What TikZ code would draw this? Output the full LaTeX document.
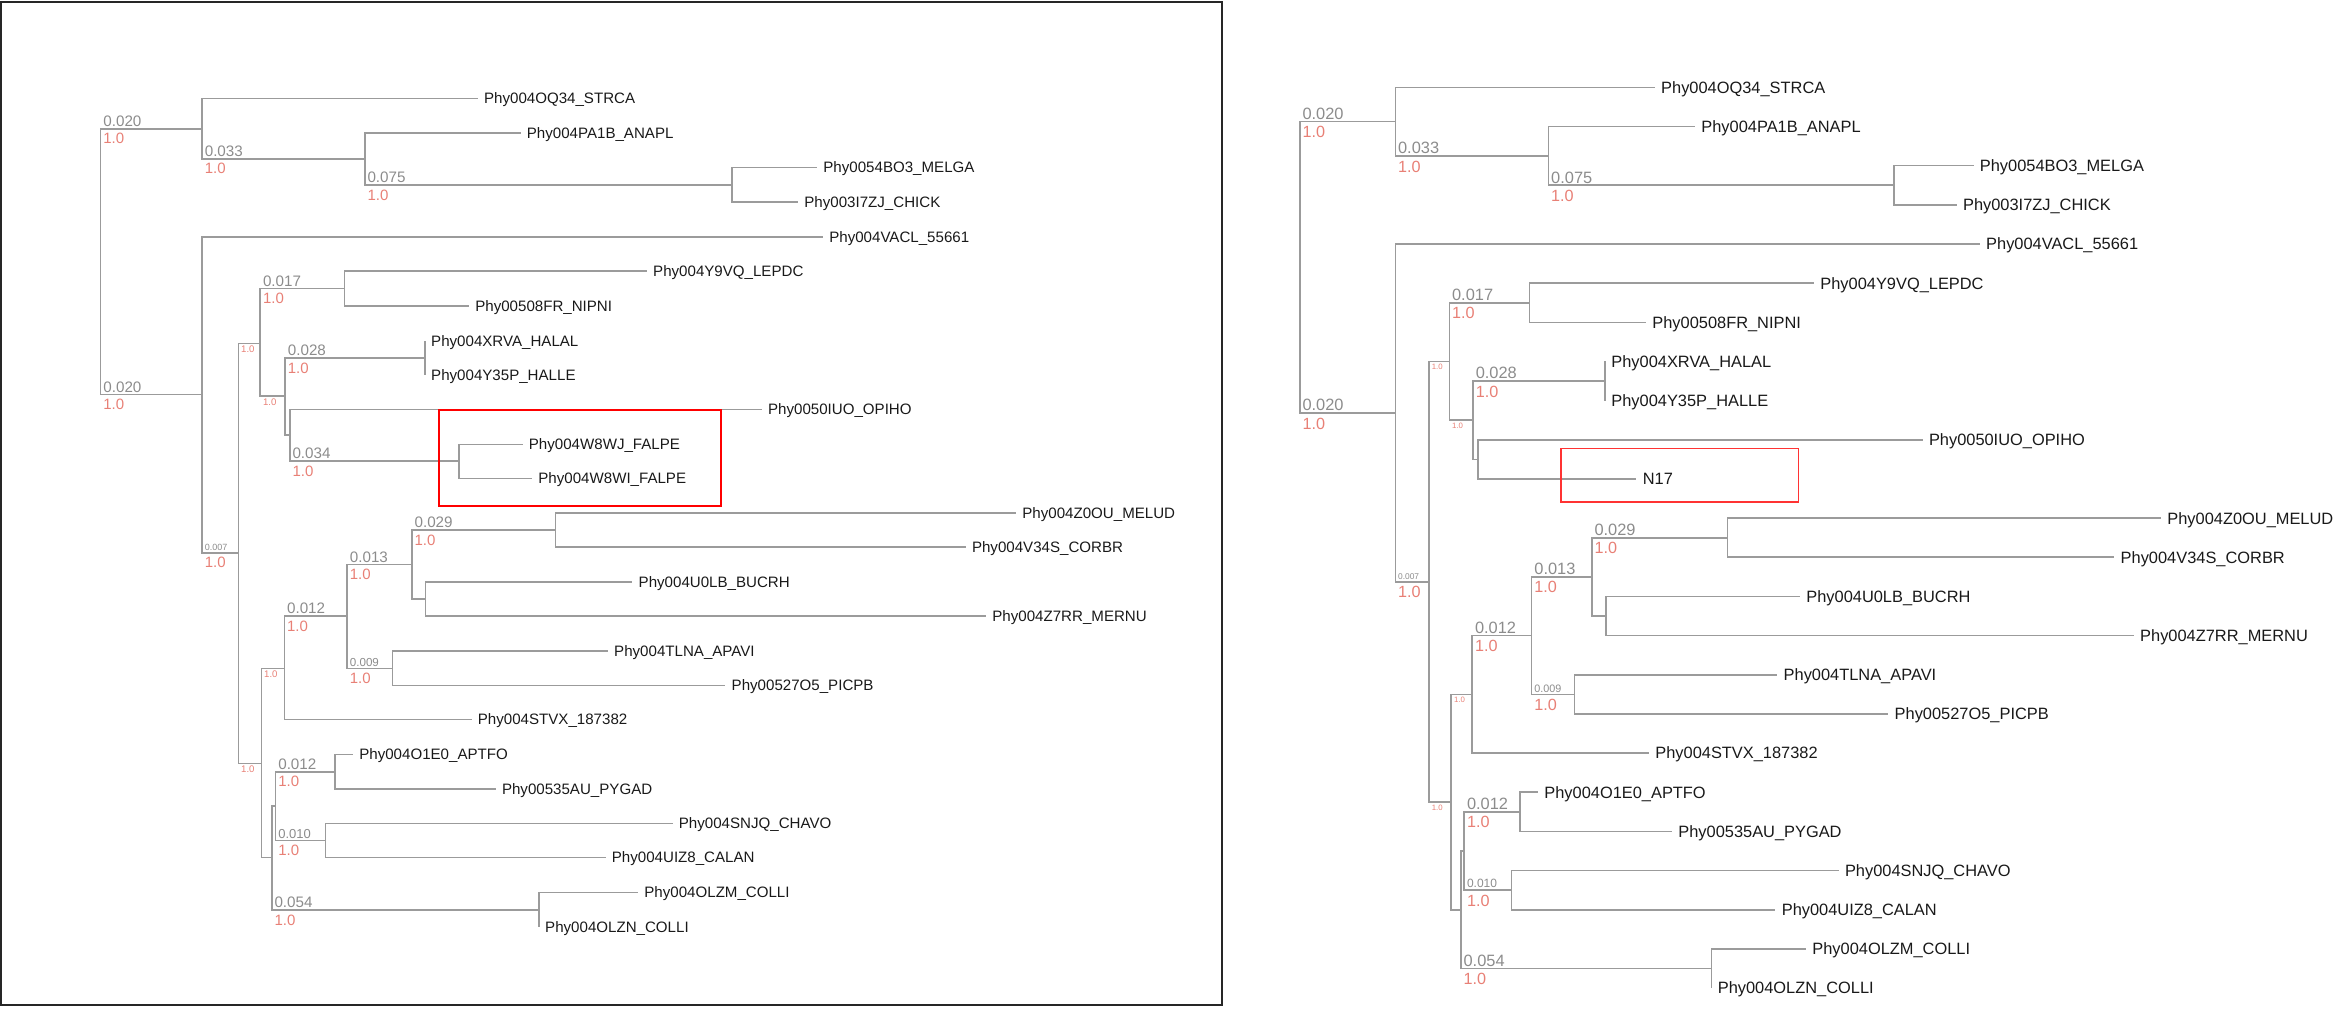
\documentclass[tikz,border=0pt]{standalone}
\usepackage{fontspec}
\setmainfont{Liberation Sans}
\usepackage{tikz}

\definecolor{treegrey}{RGB}{155,155,155}
\definecolor{lengrey}{RGB}{140,140,140}
\definecolor{suppred}{RGB}{232,128,118}
\definecolor{leafink}{RGB}{25,25,25}
\newcommand{\fsz}[1]{\fontsize{#1}{#1}\selectfont}

\tikzset{
edge/.style={draw=treegrey, line width=0.8pt},
leaf/.style={anchor=west, inner sep=3pt, text depth=0pt, text=leafink},
blen/.style={anchor=south west, inner xsep=1pt, inner ysep=0.6pt, text=lengrey},
supp/.style={anchor=north west, inner xsep=1pt, inner ysep=2pt, text=suppred},
tinysupp/.style={supp, inner ysep=1pt},
pickbox/.style={draw=red, line width=1pt},
}

\begin{document}
\begin{tikzpicture}[x=0.5pt, y=-0.5pt]
\useasboundingbox (0,0) rectangle (2336,1017);
\draw[line width=1pt, black!85] (1,1.5) rectangle (1221.5,1004.5);

% left tree
\begin{scope}[leaf/.append style={font=\fsz{7.55}},
  blen/.append style={font=\fsz{7.6}},
  supp/.append style={font=\fsz{7.5}},
  tinysupp/.append style={font=\fsz{4.8}}]
\coordinate (L0) at (100.6,261.5);
\coordinate (La) at (202,128.7);
\coordinate (Lb) at (364.7,158.7);
\coordinate (Lc) at (732.2,185);
\coordinate (Ld) at (202,394.3);
\coordinate (Le) at (238.4,552.7);
\coordinate (Lf) at (260.2,343.3);
\coordinate (Lg) at (344.4,288.3);
\coordinate (Lh) at (285.1,396);
\coordinate (Lj) at (424.8,357.8);
\coordinate (Li) at (289.7,435);
\coordinate (Lk) at (459.2,461);
\coordinate (Ll) at (261.4,763.3);
\coordinate (Lm) at (284.3,668.3);
\coordinate (Ln) at (347.1,616);
\coordinate (Lo) at (411.8,564.3);
\coordinate (Lp) at (555.3,529.8);
\coordinate (Lq) at (425.6,598.8);
\coordinate (Lr) at (392.3,668.3);
\coordinate (Ls) at (271.7,857.3);
\coordinate (Lt) at (275.5,806);
\coordinate (Lu) at (334.9,771.7);
\coordinate (Lv) at (325.3,840.5);
\coordinate (Lw) at (538.8,910);

\node[leaf] (Lstrca) at (477.7,98.3) {Phy004OQ34\_STRCA};
\node[leaf] (Lpa1b) at (520.5,133) {Phy004PA1B\_ANAPL};
\node[leaf] (Lmelga) at (817,167.3) {Phy0054BO3\_MELGA};
\node[leaf] (Lchick) at (798,202) {Phy003I7ZJ\_CHICK};
\node[leaf] (Lvacl) at (822.9,236.7) {Phy004VACL\_55661};
\node[leaf] (Llepdc) at (646.8,270.7) {Phy004Y9VQ\_LEPDC};
\node[leaf] (Lnipni) at (468.9,305.7) {Phy00508FR\_NIPNI};
\node[leaf] (Lhalal) at (424.8,341) {Phy004XRVA\_HALAL};
\node[leaf] (Lhalle) at (424.8,375) {Phy004Y35P\_HALLE};
\node[leaf] (Lopiho) at (761.7,409.3) {Phy0050IUO\_OPIHO};
\node[leaf] (Lw8wj) at (522.5,444.3) {Phy004W8WJ\_FALPE};
\node[leaf] (Lw8wi) at (532,478.3) {Phy004W8WI\_FALPE};
\node[leaf] (Lmelud) at (1016,512.7) {Phy004Z0OU\_MELUD};
\node[leaf] (Lcorbr) at (965.6,547) {Phy004V34S\_CORBR};
\node[leaf] (Lbucrh) at (632.3,582) {Phy004U0LB\_BUCRH};
\node[leaf] (Lmernu) at (986,616) {Phy004Z7RR\_MERNU};
\node[leaf] (Lapavi) at (607.8,651) {Phy004TLNA\_APAVI};
\node[leaf] (Lpicpb) at (725.3,685.3) {Phy00527O5\_PICPB};
\node[leaf] (Lstvx) at (471.5,719.3) {Phy004STVX\_187382};
\node[leaf] (Laptfo) at (352.9,754.3) {Phy004O1E0\_APTFO};
\node[leaf] (Lpygad) at (495.6,789) {Phy00535AU\_PYGAD};
\node[leaf] (Lchavo) at (672.5,823.3) {Phy004SNJQ\_CHAVO};
\node[leaf] (Lcalan) at (605.5,857.3) {Phy004UIZ8\_CALAN};
\node[leaf] (Lolzm) at (638,892.3) {Phy004OLZM\_COLLI};
\node[leaf] (Lolzn) at (538.8,926.7) {Phy004OLZN\_COLLI};

\draw[edge] (L0) |- (La) node[pos=.5,blen]{0.020} node[pos=.5,supp]{1.0};
\draw[edge] (L0) |- (Ld) node[pos=.5,blen]{0.020} node[pos=.5,supp]{1.0};
\draw[edge] (La) |- (Lstrca.west);
\draw[edge] (La) |- (Lb) node[pos=.5,blen]{0.033} node[pos=.5,supp]{1.0};
\draw[edge] (Lb) |- (Lpa1b.west);
\draw[edge] (Lb) |- (Lc) node[pos=.5,blen]{0.075} node[pos=.5,supp]{1.0};
\draw[edge] (Lc) |- (Lmelga.west);
\draw[edge] (Lc) |- (Lchick.west);
\draw[edge] (Ld) |- (Lvacl.west);
\draw[edge] (Ld) |- (Le) node[pos=.5,blen,font=\fsz{4.5}]{0.007} node[pos=.5,supp]{1.0};
\draw[edge] (Le) |- (Lf) node[pos=.5,tinysupp]{1.0};
\draw[edge] (Le) |- (Ll) node[pos=.5,tinysupp]{1.0};
\draw[edge] (Lf) |- (Lg) node[pos=.5,blen]{0.017} node[pos=.5,supp]{1.0};
\draw[edge] (Lf) |- (Lh) node[pos=.5,tinysupp]{1.0};
\draw[edge] (Lg) |- (Llepdc.west);
\draw[edge] (Lg) |- (Lnipni.west);
\draw[edge] (Lh) |- (Lj) node[pos=.5,blen]{0.028} node[pos=.5,supp]{1.0};
\draw[edge] (Lh) |- (Li);
\draw[edge] (Lj) |- (Lhalal.west);
\draw[edge] (Lj) |- (Lhalle.west);
\draw[edge] (Li) |- (Lopiho.west);
\draw[edge] (Li) |- (Lk) node[pos=.5,blen]{0.034} node[pos=.5,supp]{1.0};
\draw[edge] (Lk) |- (Lw8wj.west);
\draw[edge] (Lk) |- (Lw8wi.west);
\draw[edge] (Ll) |- (Lm) node[pos=.5,tinysupp]{1.0};
\draw[edge] (Ll) |- (Ls);
\draw[edge] (Lm) |- (Ln) node[pos=.5,blen]{0.012} node[pos=.5,supp]{1.0};
\draw[edge] (Lm) |- (Lstvx.west);
\draw[edge] (Ln) |- (Lo) node[pos=.5,blen]{0.013} node[pos=.5,supp]{1.0};
\draw[edge] (Ln) |- (Lr) node[pos=.5,blen,font=\fsz{5.8}]{0.009} node[pos=.5,supp]{1.0};
\draw[edge] (Lo) |- (Lp) node[pos=.5,blen]{0.029} node[pos=.5,supp]{1.0};
\draw[edge] (Lo) |- (Lq);
\draw[edge] (Lp) |- (Lmelud.west);
\draw[edge] (Lp) |- (Lcorbr.west);
\draw[edge] (Lq) |- (Lbucrh.west);
\draw[edge] (Lq) |- (Lmernu.west);
\draw[edge] (Lr) |- (Lapavi.west);
\draw[edge] (Lr) |- (Lpicpb.west);
\draw[edge] (Ls) |- (Lt);
\draw[edge] (Ls) |- (Lw) node[pos=.5,blen]{0.054} node[pos=.5,supp]{1.0};
\draw[edge] (Lt) |- (Lu) node[pos=.5,blen]{0.012} node[pos=.5,supp]{1.0};
\draw[edge] (Lt) |- (Lv) node[pos=.5,blen,font=\fsz{6.5}]{0.010} node[pos=.5,supp]{1.0};
\draw[edge] (Lu) |- (Laptfo.west);
\draw[edge] (Lu) |- (Lpygad.west);
\draw[edge] (Lv) |- (Lchavo.west);
\draw[edge] (Lv) |- (Lcalan.west);
\draw[edge] (Lw) |- (Lolzm.west);
\draw[edge] (Lw) |- (Lolzn.west);

\draw[pickbox] (439.3,410) rectangle (720.7,506);
\end{scope}

% right tree
\begin{scope}[leaf/.append style={font=\fsz{8.2}},
  blen/.append style={font=\fsz{8.2}},
  supp/.append style={font=\fsz{8.1}},
  tinysupp/.append style={font=\fsz{3.9}}]
\coordinate (R0) at (1299.7,267.3);
\coordinate (Ra) at (1395.3,121.6);
\coordinate (Rb) at (1548.4,155.9);
\coordinate (Rc) at (1893.9,185.2);
\coordinate (Rd) at (1395.3,412.9);
\coordinate (Re) at (1429,581.7);
\coordinate (Rf) at (1449.3,361.4);
\coordinate (Rg) at (1529.3,302.7);
\coordinate (Rh) at (1473,420.2);
\coordinate (Rj) at (1605,381);
\coordinate (Ri) at (1478,459.3);
\coordinate (Rl) at (1451.2,802);
\coordinate (Rm) at (1472.2,694.3);
\coordinate (Rn) at (1531.6,635.6);
\coordinate (Ro) at (1591.7,576.8);
\coordinate (Rp) at (1727.5,537.7);
\coordinate (Rq) at (1606.2,616);
\coordinate (Rr) at (1574.4,694.3);
\coordinate (Rs) at (1460.8,909.7);
\coordinate (Rt) at (1464.2,851);
\coordinate (Ru) at (1520,811.8);
\coordinate (Rv) at (1511.3,890.1);
\coordinate (Rw) at (1711.4,968.4);

\node[leaf] (Rstrca) at (1654.8,87.3) {Phy004OQ34\_STRCA};
\node[leaf] (Rpa1b) at (1695,126.5) {Phy004PA1B\_ANAPL};
\node[leaf] (Rmelga) at (1973.5,165.6) {Phy0054BO3\_MELGA};
\node[leaf] (Rchick) at (1956.7,204.8) {Phy003I7ZJ\_CHICK};
\node[leaf] (Rvacl) at (1979.8,244) {Phy004VACL\_55661};
\node[leaf] (Rlepdc) at (1814,283.1) {Phy004Y9VQ\_LEPDC};
\node[leaf] (Rnipni) at (1646,322.3) {Phy00508FR\_NIPNI};
\node[leaf] (Rhalal) at (1605,361.4) {Phy004XRVA\_HALAL};
\node[leaf] (Rhalle) at (1605,400.6) {Phy004Y35P\_HALLE};
\node[leaf] (Ropiho) at (1922.6,439.7) {Phy0050IUO\_OPIHO};
\node[leaf] (Rn17) at (1636.4,478.9) {N17};
\node[leaf] (Rmelud) at (2161,518.1) {Phy004Z0OU\_MELUD};
\node[leaf] (Rcorbr) at (2114.3,557.2) {Phy004V34S\_CORBR};
\node[leaf] (Rbucrh) at (1800,596.4) {Phy004U0LB\_BUCRH};
\node[leaf] (Rmernu) at (2133.8,635.5) {Phy004Z7RR\_MERNU};
\node[leaf] (Rapavi) at (1777.3,674.7) {Phy004TLNA\_APAVI};
\node[leaf] (Rpicpb) at (1888.3,713.9) {Phy00527O5\_PICPB};
\node[leaf] (Rstvx) at (1649,753) {Phy004STVX\_187382};
\node[leaf] (Raptfo) at (1538,792.2) {Phy004O1E0\_APTFO};
\node[leaf] (Rpygad) at (1672,831.3) {Phy00535AU\_PYGAD};
\node[leaf] (Rchavo) at (1838.6,870.5) {Phy004SNJQ\_CHAVO};
\node[leaf] (Rcalan) at (1775.4,909.7) {Phy004UIZ8\_CALAN};
\node[leaf] (Rolzm) at (1806,948.8) {Phy004OLZM\_COLLI};
\node[leaf] (Rolzn) at (1711.4,988) {Phy004OLZN\_COLLI};

\draw[edge] (R0) |- (Ra) node[pos=.5,blen]{0.020} node[pos=.5,supp]{1.0};
\draw[edge] (R0) |- (Rd) node[pos=.5,blen]{0.020} node[pos=.5,supp]{1.0};
\draw[edge] (Ra) |- (Rstrca.west);
\draw[edge] (Ra) |- (Rb) node[pos=.5,blen]{0.033} node[pos=.5,supp]{1.0};
\draw[edge] (Rb) |- (Rpa1b.west);
\draw[edge] (Rb) |- (Rc) node[pos=.5,blen]{0.075} node[pos=.5,supp]{1.0};
\draw[edge] (Rc) |- (Rmelga.west);
\draw[edge] (Rc) |- (Rchick.west);
\draw[edge] (Rd) |- (Rvacl.west);
\draw[edge] (Rd) |- (Re) node[pos=.5,blen,font=\fsz{4.2}]{0.007} node[pos=.5,supp]{1.0};
\draw[edge] (Re) |- (Rf) node[pos=.5,tinysupp]{1.0};
\draw[edge] (Re) |- (Rl) node[pos=.5,tinysupp]{1.0};
\draw[edge] (Rf) |- (Rg) node[pos=.5,blen]{0.017} node[pos=.5,supp]{1.0};
\draw[edge] (Rf) |- (Rh) node[pos=.5,tinysupp]{1.0};
\draw[edge] (Rg) |- (Rlepdc.west);
\draw[edge] (Rg) |- (Rnipni.west);
\draw[edge] (Rh) |- (Rj) node[pos=.5,blen]{0.028} node[pos=.5,supp]{1.0};
\draw[edge] (Rh) |- (Ri);
\draw[edge] (Rj) |- (Rhalal.west);
\draw[edge] (Rj) |- (Rhalle.west);
\draw[edge] (Ri) |- (Ropiho.west);
\draw[edge] (Ri) |- (Rn17.west);
\draw[edge] (Rl) |- (Rm) node[pos=.5,tinysupp]{1.0};
\draw[edge] (Rl) |- (Rs);
\draw[edge] (Rm) |- (Rn) node[pos=.5,blen]{0.012} node[pos=.5,supp]{1.0};
\draw[edge] (Rm) |- (Rstvx.west);
\draw[edge] (Rn) |- (Ro) node[pos=.5,blen]{0.013} node[pos=.5,supp]{1.0};
\draw[edge] (Rn) |- (Rr) node[pos=.5,blen,font=\fsz{5.4}]{0.009} node[pos=.5,supp]{1.0};
\draw[edge] (Ro) |- (Rp) node[pos=.5,blen]{0.029} node[pos=.5,supp]{1.0};
\draw[edge] (Ro) |- (Rq);
\draw[edge] (Rp) |- (Rmelud.west);
\draw[edge] (Rp) |- (Rcorbr.west);
\draw[edge] (Rq) |- (Rbucrh.west);
\draw[edge] (Rq) |- (Rmernu.west);
\draw[edge] (Rr) |- (Rapavi.west);
\draw[edge] (Rr) |- (Rpicpb.west);
\draw[edge] (Rs) |- (Rt);
\draw[edge] (Rs) |- (Rw) node[pos=.5,blen]{0.054} node[pos=.5,supp]{1.0};
\draw[edge] (Rt) |- (Ru) node[pos=.5,blen]{0.012} node[pos=.5,supp]{1.0};
\draw[edge] (Rt) |- (Rv) node[pos=.5,blen,font=\fsz{6}]{0.010} node[pos=.5,supp]{1.0};
\draw[edge] (Ru) |- (Raptfo.west);
\draw[edge] (Ru) |- (Rpygad.west);
\draw[edge] (Rv) |- (Rchavo.west);
\draw[edge] (Rv) |- (Rcalan.west);
\draw[edge] (Rw) |- (Rolzm.west);
\draw[edge] (Rw) |- (Rolzn.west);

\draw[pickbox, draw=red!80, line width=0.7pt] (1561,448.5) rectangle (1798.3,502);
\end{scope}
\end{tikzpicture}
\end{document}
